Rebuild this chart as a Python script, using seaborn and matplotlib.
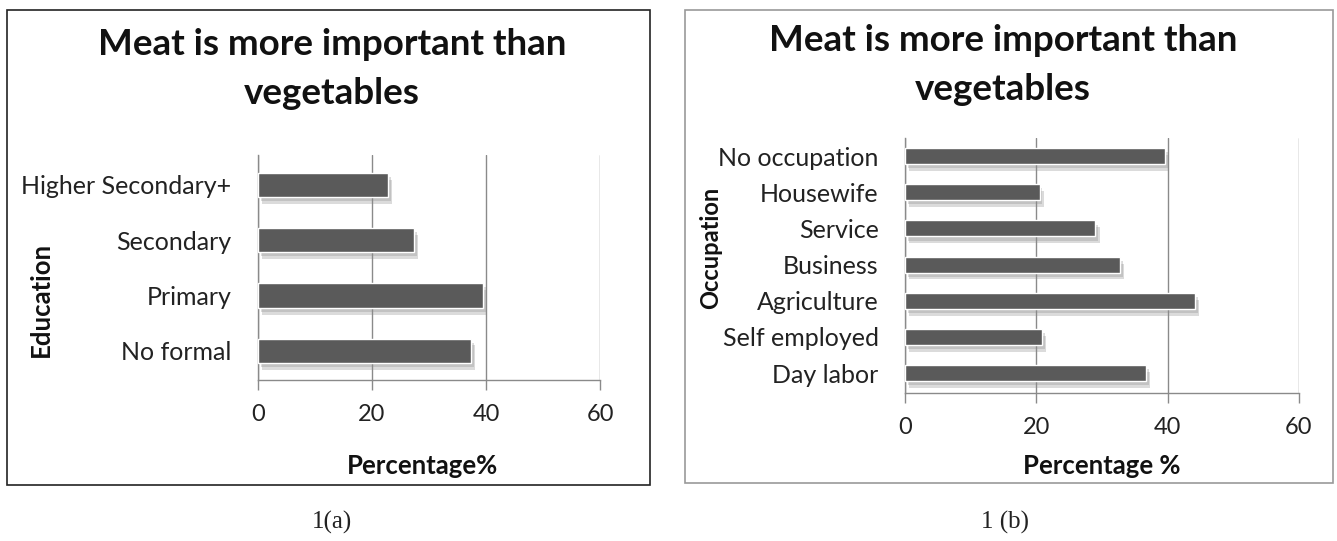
import matplotlib
matplotlib.use("Agg")
import matplotlib.pyplot as plt
import matplotlib.patheffects as pe
from matplotlib.patches import Rectangle
import seaborn as sns
import pandas as pd

# ---- data ----
title = "Meat is more important than\nvegetables"
edu_categories = ["Higher Secondary+", "Secondary", "Primary", "No formal"]
edu_values = [22.8, 27.4, 39.5, 37.4]
occ_categories = ["No occupation", "Housewife", "Service", "Business",
                  "Agriculture", "Self employed", "Day labor"]
occ_values = [39.6, 20.5, 29.0, 32.7, 44.2, 20.9, 36.7]
x_ticks = [0, 20, 40, 60]

sns.set_theme(style="white")
plt.rcParams["font.family"] = ["Lato", "DejaVu Sans"]

fig = plt.figure(figsize=(13.37, 5.41), dpi=100)

BAR = "#5a5a5a"
GRID = "#8a8a8a"

def style_axis(ax, cats, vals, xlabel, ylabel, xl, yl, xpad, ylsize):
    df = pd.DataFrame({"cat": cats, "val": vals})
    sns.barplot(data=df, x="val", y="cat", orient="h", color=BAR,
                width=0.44, ax=ax, saturation=1)
    for p in ax.patches:
        p.set_path_effects([pe.SimplePatchShadow(offset=(3, -5), shadow_rgbFace="#8a8a8a", alpha=0.3),
                            pe.SimplePatchShadow(offset=(2, -3), shadow_rgbFace="#8a8a8a", alpha=0.3),
                            pe.Normal()])
        p.set_zorder(3)
    ax.set_xlim(0, 60)
    ax.set_xticks(x_ticks)
    ax.xaxis.grid(True, color=GRID, linewidth=1.0)
    ax.yaxis.grid(False)
    ax.set_axisbelow(True)
    for s in ["top", "right"]:
        ax.spines[s].set_visible(False)
    for s in ["left", "bottom"]:
        ax.spines[s].set_color(GRID)
        ax.spines[s].set_linewidth(1.0)
    ax.tick_params(axis="x", direction="out", length=7.5, color=GRID, width=1,
                   bottom=True, labelsize=17, pad=xpad, labelcolor="#222222")
    ax.tick_params(axis="y", length=0, labelsize=18, pad=19, labelcolor="#222222")
    ax.set_xlabel(xlabel, fontsize=18.5, fontweight="bold", color="#111111")
    ax.set_ylabel(ylabel, fontsize=ylsize, fontweight="bold", color="#111111")
    ax.xaxis.set_label_coords(*xl)
    ax.yaxis.set_label_coords(*yl)

# Panel (a)
ax1 = fig.add_axes([258/1337, 1-380/541, 342/1337, 225/541])
style_axis(ax1, edu_categories, edu_values, "Percentage%", "Education",
           (0.48, -0.33), (-0.60, 0.356), 10, 18.5)
ax1.set_ylim(3.53, -0.54)

# Panel (b)
ax2 = fig.add_axes([905/1337, 1-393/541, 394/1337, 255/541])
style_axis(ax2, occ_categories, occ_values, "Percentage %", "Occupation",
           (0.50, -0.24), (-0.463, 0.569), 10, 17)
ax2.set_ylim(6.55, -0.5)

# Frames
fig.patches.append(Rectangle((7/1337, 1-485/541), 643/1337, 475/541,
                             transform=fig.transFigure, fill=False,
                             edgecolor="#222222", linewidth=1.2))
fig.patches.append(Rectangle((685/1337, 1-483/541), 648/1337, 473/541,
                             transform=fig.transFigure, fill=False,
                             edgecolor="#999999", linewidth=1.2))

# Titles
fig.text(332/1337, 1-69/541, title, ha="center", va="center",
         fontsize=26.5, fontweight="bold", linespacing=1.58, color="#111111")
fig.text(1003/1337, 1-65/541, title, ha="center", va="center",
         fontsize=26.5, fontweight="bold", linespacing=1.58, color="#111111")

# Captions
fig.text(332/1337, 1-522/541, "1(a)", ha="center", va="center",
         fontsize=18, family=["Liberation Serif"], color="#222222")
fig.text(1005/1337, 1-522/541, "1 (b)", ha="center", va="center",
         fontsize=18, family=["Liberation Serif"], color="#222222")

fig.savefig("out.png", dpi=100, facecolor="white")
